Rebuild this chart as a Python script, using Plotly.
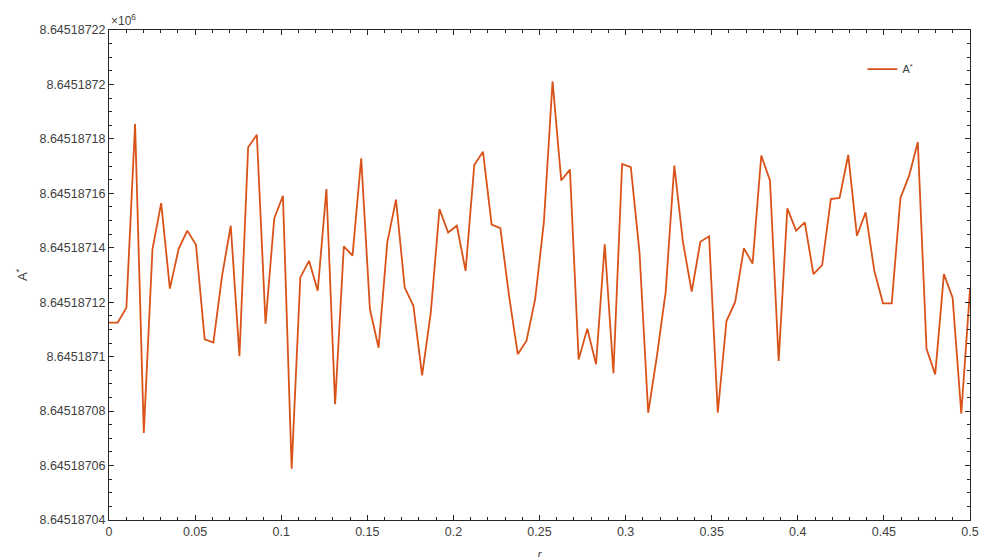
import numpy as np
import plotly.graph_objects as go

# r samples (100 points over 0..0.5)
r = np.linspace(0, 0.5, 100)

# A* values (in units of 1e6 on the axis)
a_star = [
    8.6451871125, 8.6451871125, 8.645187118, 8.6451871855, 8.645187072,
    8.6451871395, 8.6451871564, 8.645187125, 8.6451871395, 8.6451871463,
    8.6451871411, 8.6451871064, 8.6451871052, 8.6451871297, 8.6451871481,
    8.6451871002, 8.6451871769, 8.6451871815, 8.6451871121, 8.6451871508,
    8.6451871591, 8.6451870588, 8.6451871291, 8.6451871352, 8.6451871242,
    8.6451871616, 8.6451870825, 8.6451871405, 8.6451871371, 8.6451871729,
    8.6451871174, 8.6451871033, 8.645187142, 8.6451871577, 8.6451871254,
    8.6451871187, 8.6451870931, 8.6451871162, 8.6451871542, 8.6451871456,
    8.6451871481, 8.6451871315, 8.6451871704, 8.6451871753, 8.6451871485,
    8.6451871472, 8.6451871223, 8.6451871009, 8.6451871058, 8.6451871211,
    8.6451871493, 8.6451872011, 8.6451871647, 8.6451871687, 8.645187099,
    8.6451871103, 8.6451870972, 8.6451871413, 8.6451870939, 8.6451871708,
    8.6451871696, 8.6451871383, 8.6451870794, 8.6451871002, 8.6451871236,
    8.6451871702, 8.645187142, 8.6451871239, 8.6451871422, 8.6451871442,
    8.6451870794, 8.6451871131, 8.6451871201, 8.6451871398, 8.6451871342,
    8.6451871739, 8.6451871647, 8.6451870984, 8.6451871545, 8.6451871463,
    8.6451871493, 8.6451871303, 8.6451871336, 8.6451871579, 8.6451871583,
    8.6451871741, 8.6451871444, 8.645187153, 8.6451871315, 8.6451871196,
    8.6451871196, 8.6451871582, 8.6451871665, 8.6451871788, 8.6451871029,
    8.6451870935, 8.6451871303, 8.6451871217, 8.6451870791, 8.6451871248,
]

x_ticks = [0, 0.05, 0.1, 0.15, 0.2, 0.25, 0.3, 0.35, 0.4, 0.45, 0.5]
x_labels = ['0', '0.05', '0.1', '0.15', '0.2', '0.25', '0.3', '0.35', '0.4', '0.45', '0.5']
y_ticks = [8.64518704, 8.64518706, 8.64518708, 8.6451871, 8.64518712,
           8.64518714, 8.64518716, 8.64518718, 8.6451872, 8.64518722]
y_labels = ['8.64518704', '8.64518706', '8.64518708', '8.6451871', '8.64518712',
            '8.64518714', '8.64518716', '8.64518718', '8.6451872', '8.64518722']

axis_col = '#262626'
line_col = '#D95319'

fig = go.Figure()
fig.add_trace(go.Scatter(x=r, y=a_star, mode='lines', name='A<sup>*</sup>',
                         line=dict(color=line_col, width=1.8)))

common = dict(showline=True, linecolor=axis_col, linewidth=1, mirror='allticks',
              ticks='inside', ticklen=5, tickcolor=axis_col, showgrid=False,
              zeroline=False, automargin=False,
              tickfont=dict(size=12.5, color='#404040'))

fig.update_xaxes(range=[0, 0.5], tickvals=x_ticks, ticktext=x_labels,
                 minor=dict(dtick=0.01, ticks='inside', ticklen=3, tickcolor=axis_col),
                 title=dict(text='<i>r</i>', font=dict(size=12, color='#404040'), standoff=12),
                 **common)
fig.update_yaxes(range=[8.64518704, 8.64518722], tickvals=y_ticks, ticktext=y_labels,
                 minor=dict(dtick=0.000000005, tick0=8.64518704, ticks='inside',
                            ticklen=3, tickcolor=axis_col),
                 title=dict(text='A<sup>*</sup>', font=dict(size=13, color='#404040'), standoff=8),
                 **common)

fig.add_annotation(text='×10<sup>6</sup>', xref='paper', yref='paper', x=0, y=1,
                   xanchor='left', yanchor='bottom', showarrow=False,
                   font=dict(size=12, color='#404040'))

# page body adds an 8px offset, so margins are trimmed to land the axes where the reference has them
fig.update_layout(
    width=1000, height=557,
    margin=dict(l=101, r=38, t=22, b=45),
    paper_bgcolor='white', plot_bgcolor='white',
    font=dict(family='Liberation Sans, Arial, sans-serif'),
    legend=dict(x=0.875, y=0.92, xanchor='left', yanchor='middle',
                bgcolor='rgba(0,0,0,0)', borderwidth=0,
                font=dict(size=11, color='#404040')),
    showlegend=True,
)

fig.write_html("out.html")
